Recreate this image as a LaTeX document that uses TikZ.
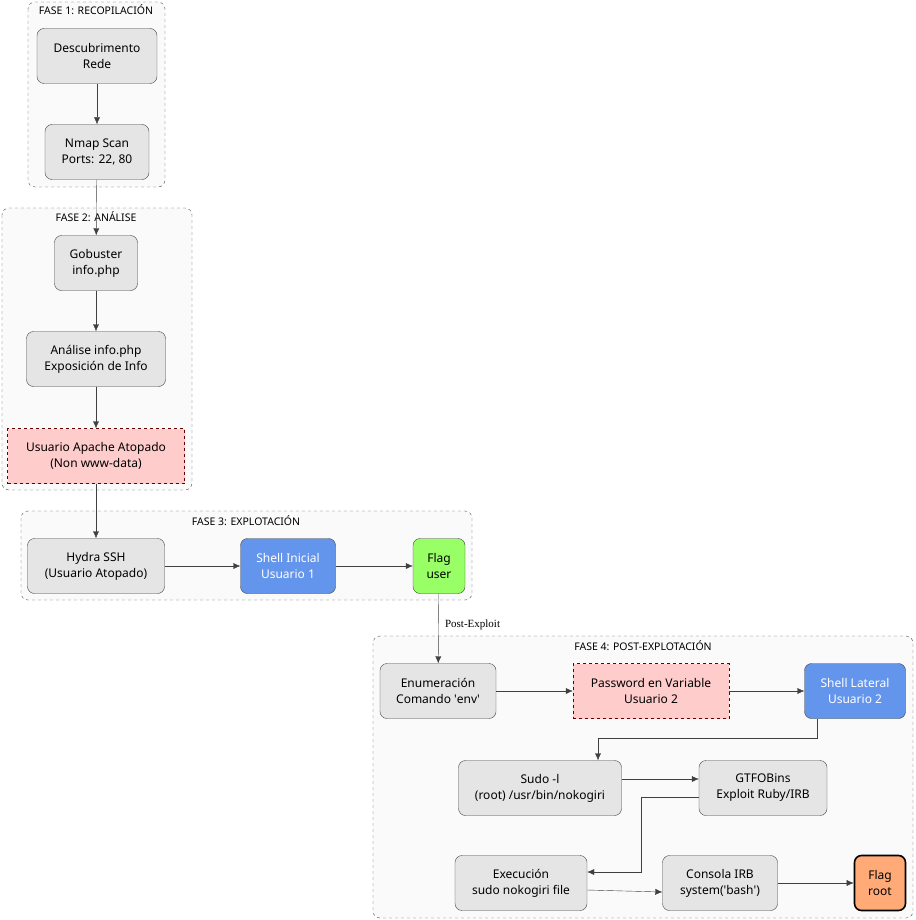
\documentclass[tikz,border=0pt]{standalone}
\usepackage{fontspec}
\setmainfont{Noto Sans}
\usepackage{textcomp}
\usetikzlibrary{arrows.meta}
\begin{document}
\begin{tikzpicture}[x=1pt,y=-1pt,
 box/.style={draw=black!75,fill=black!10,rounded corners=7pt,align=center,font=\fontsize{12}{16}\selectfont,inner sep=0pt},
 pink/.style={box,fill=red!20,draw=red!40!black,dashed,rounded corners=0pt},
 blue/.style={box,fill={rgb,255:red,100;green,149;blue,237},text=white},
 clus/.style={draw=black!70,dashed,fill=black!2,rounded corners=7pt},
 ttl/.style={font=\fontsize{10.5}{12}\selectfont},
 arr/.style={draw=black!75,-{Latex[length=7pt,width=6pt]}}]
\useasboundingbox (0,0) rectangle (915,920);
\draw[clus] (28,2) rectangle (165,187);
\draw[clus] (2,208) rectangle (192,490);
\draw[clus] (21,511) rectangle (472,600);
\draw[clus] (373,636) rectangle (913,918);
\node[ttl] (t1) at (96,10) {FASE 1: RECOPILACIÓN};
\node[ttl] (t2) at (96,217) {FASE 2: ANÁLISE};
\node[ttl] (t3) at (246,521) {FASE 3: EXPLOTACIÓN};
\node[ttl] (t4) at (643,646) {FASE 4: POST-EXPLOTACIÓN};
\node[box,minimum width=120,minimum height=55] (desc) at (97,56) {Descubrimento\\Rede};
\node[box,minimum width=104,minimum height=55] (nmap) at (97,152) {Nmap Scan\\Ports: 22, 80};
\node[box,minimum width=83,minimum height=55] (gob) at (96,263) {Gobuster\\info.php};
\node[box,minimum width=139,minimum height=55] (anal) at (96,359) {Análise info.php\\Exposición de Info};
\node[pink,minimum width=177,minimum height=55] (usr) at (96,456) {Usuario Apache Atopado\\(Non www-data)};
\node[box,minimum width=137,minimum height=55] (hyd) at (96,566) {Hydra SSH\\(Usuario Atopado)};
\node[blue,minimum width=95,minimum height=55] (shi) at (288,566) {Shell Inicial\\Usuario 1};
\node[box,fill={rgb,255:red,153;green,255;blue,102},minimum width=52,minimum height=55] (fu) at (439,566) {Flag\\user};
\node[box,minimum width=116,minimum height=55] (enu) at (438,691) {Enumeración\\Comando \textquotesingle env\textquotesingle};
\node[pink,minimum width=156,minimum height=55] (pw) at (651,691) {Password en Variable\\Usuario 2};
\node[blue,minimum width=101,minimum height=55] (shl) at (855,691) {Shell Lateral\\Usuario 2};
\node[box,minimum width=163,minimum height=55] (sudo) at (540,788) {Sudo -l\\(root) /usr/bin/nokogiri};
\node[box,minimum width=128,minimum height=55] (gtf) at (763,788) {GTFOBins\\Exploit Ruby/IRB};
\node[box,minimum width=132,minimum height=55] (exe) at (521,883) {Execución\\sudo nokogiri file};
\node[box,minimum width=115,minimum height=55] (irb) at (720,883) {Consola IRB\\system(\textquotesingle bash\textquotesingle)};
\node[box,fill={rgb,255:red,255;green,170;blue,119},line width=1.6pt,draw=black,minimum width=51,minimum height=55] (fr) at (880,883) {Flag\\root};
\draw[arr] (desc) -- (nmap);
\draw[arr] (nmap) -- (gob);
\draw[arr] (gob) -- (anal);
\draw[arr] (anal) -- (usr);
\draw[arr] (usr) -- (hyd);
\draw[arr] (hyd) -- (shi);
\draw[arr] (shi) -- (fu);
\draw[arr] (fu) -- node[right,font=\fontsize{11}{12}\fontspec{Liberation Serif},xshift=3pt,pos=0.45] {Post-Exploit} (enu);
\draw[arr] (enu) -- (pw);
\draw[arr] (pw) -- (shl);
\draw[arr] (shl.south west) ++(13,0) |- (598,738) -- (sudo.north -| 598,0);
\draw[arr] (sudo.east |- 0,779) -- (gtf.west |- 0,779);
\draw[arr] (gtf.west |- 0,797) -| (641,872) -- (exe.east |- 0,872);
\draw[arr] (exe.east |- 0,890) -- (irb.west |- 0,892);
\draw[arr] (irb.east |- 0,883) -- (fr.west |- 0,883);
\end{tikzpicture}
\end{document}
